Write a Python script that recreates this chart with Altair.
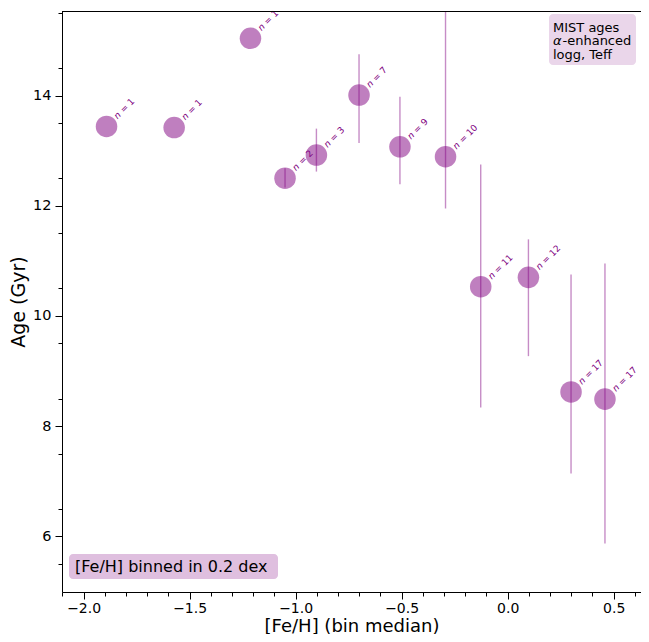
import altair as alt
import pandas as pd

# ---- data ----
feh = [-1.892, -1.573, -1.213, -1.050, -0.902, -0.701, -0.508, -0.293, -0.127, 0.098, 0.299, 0.459]
age = [13.44, 13.42, 15.04, 12.50, 12.92, 14.01, 13.07, 12.89, 10.53, 10.70, 8.62, 8.49]
age_lo = [13.44, 13.42, 15.04, 12.33, 12.62, 13.14, 12.39, 11.95, 8.34, 9.27, 7.14, 5.87]
age_hi = [13.44, 13.42, 15.04, 12.68, 13.40, 14.75, 13.98, 16.50, 12.75, 11.39, 10.75, 10.95]
nstars = [1, 1, 1, 2, 3, 7, 9, 10, 11, 12, 17, 17]

x_major = [-2.0, -1.5, -1.0, -0.5, 0.0, 0.5]
x_minor = [-2.1, -1.9, -1.8, -1.7, -1.6, -1.4, -1.3, -1.2, -1.1, -0.9, -0.8, -0.7, -0.6,
           -0.4, -0.3, -0.2, -0.1, 0.1, 0.2, 0.3, 0.4, 0.6]
y_major = [6, 8, 10, 12, 14]
y_minor = [5.5, 6.5, 7.5, 8.5, 9.5, 10.5, 11.5, 12.5, 13.5, 14.5, 15.5]

x_domain = [-2.102, 0.629]
y_domain = [4.989, 15.535]

df = pd.DataFrame({"feh": feh, "age": age, "lo": age_lo, "hi": age_hi, "n": nstars})
df["nlab"] = ["= " + str(v) for v in nstars]
one = pd.DataFrame({"a": [0]})

PURPLE = "#800080"
FONT = "DejaVu Sans"
TOP = 3
W, H = 579, 584 - TOP
NFS = 9.0

xs = alt.Scale(domain=x_domain, nice=False, zero=False)
ys = alt.Scale(domain=y_domain, nice=False, zero=False)

minus = "replace(format(datum.value, '.1f'), '-', '\u2212')"

base = alt.Chart(df)

points = base.mark_circle(size=464, color=PURPLE, opacity=0.5).encode(
    x=alt.X("feh:Q", scale=xs, axis=alt.Axis(
        values=x_major, labelExpr=minus, title="[Fe/H] (bin median)", orient="bottom",
        tickSize=7, labelPadding=2, titleY=39, titleBaseline="alphabetic",
        titleFontSize=18, labelFontSize=14,
        titleFontWeight="normal", grid=False)),
    y=alt.Y("age:Q", scale=ys, axis=alt.Axis(
        values=y_major, format="d", title="Age (Gyr)", orient="left",
        tickSize=7, labelPadding=4, titlePadding=4, titleFontSize=19, labelFontSize=14.5,
        titleFontWeight="normal", grid=False)),
)

minor = base.mark_point(opacity=0).encode(
    x=alt.X("feh:Q", scale=xs, axis=alt.Axis(
        values=x_minor, labels=False, title=None, orient="bottom", tickSize=4,
        domain=False, grid=False)),
    y=alt.Y("age:Q", scale=ys, axis=alt.Axis(
        values=y_minor, labels=False, title=None, orient="left", tickSize=4,
        domain=False, grid=False)),
)

bars = base.transform_filter("datum.n > 1").mark_rule(
    color=PURPLE, opacity=0.45, strokeWidth=1.4, clip=True).encode(
    x=alt.X("feh:Q", scale=xs, axis=None),
    y=alt.Y("lo:Q", scale=ys, axis=None),
    y2="hi:Q",
)

lab_n = base.mark_text(
    color=PURPLE, fontSize=NFS, font=FONT, fontStyle="italic", angle=315,
    align="left", baseline="alphabetic", xOffset=11, yOffset=-7).encode(
    x=alt.X("feh:Q", scale=xs, axis=None),
    y=alt.Y("age:Q", scale=ys, axis=None),
    text=alt.value("n"),
)
lab_eq = base.mark_text(
    color=PURPLE, fontSize=NFS, font=FONT, angle=315, dx=NFS * 0.96,
    align="left", baseline="alphabetic", xOffset=11, yOffset=-7).encode(
    x=alt.X("feh:Q", scale=xs, axis=None),
    y=alt.Y("age:Q", scale=ys, axis=None),
    text="nlab:N",
)

ann = alt.Chart(one)
top_spine = ann.mark_rule(color="black", strokeWidth=1).encode(
    x=alt.value(0), x2=alt.value(W), y=alt.value(0.5))

box1 = ann.mark_rect(fill="#ead6ea", cornerRadius=4).encode(
    x=alt.value(487), x2=alt.value(574), y=alt.value(6 - TOP), y2=alt.value(57 - TOP))
t1 = ann.mark_text(font=FONT, fontSize=13, align="left", baseline="alphabetic", color="black").encode(
    x=alt.value(491), y=alt.value(23.5 - TOP), text=alt.value("MIST ages"))
t2a = ann.mark_text(font=FONT, fontSize=13, fontStyle="italic", align="left", baseline="alphabetic", color="black").encode(
    x=alt.value(491), y=alt.value(37 - TOP), text=alt.value("α"))
t2b = ann.mark_text(font=FONT, fontSize=13, align="left", baseline="alphabetic", color="black").encode(
    x=alt.value(500.5), y=alt.value(37 - TOP), text=alt.value("-enhanced"))
t3 = ann.mark_text(font=FONT, fontSize=13, align="left", baseline="alphabetic", color="black").encode(
    x=alt.value(491), y=alt.value(51 - TOP), text=alt.value("logg, Teff"))

box2 = ann.mark_rect(fill="#dfbfdf", cornerRadius=4).encode(
    x=alt.value(7), x2=alt.value(216), y=alt.value(546 - TOP), y2=alt.value(571 - TOP))
t4 = ann.mark_text(font=FONT, fontSize=16, align="left", baseline="alphabetic", color="black").encode(
    x=alt.value(13), y=alt.value(563.5 - TOP), text=alt.value("[Fe/H] binned in 0.2 dex"))

chart = alt.layer(
    points, minor, bars, lab_n, lab_eq, top_spine, box1, t1, t2a, t2b, t3, box2, t4
).resolve_axis(x="independent", y="independent").properties(
    width=W, height=H,
    autosize=alt.AutoSizeParams(type="none"),
    padding={"left": 54, "top": TOP, "right": 0, "bottom": 42},
).configure_view(stroke=None).configure_axis(
    labelFont=FONT, titleFont=FONT, labelColor="black", titleColor="black",
    domainColor="black", tickColor="black", domainWidth=1, tickWidth=1,
)

chart.save("out.html", embed_options={"renderer": "svg", "actions": False})
